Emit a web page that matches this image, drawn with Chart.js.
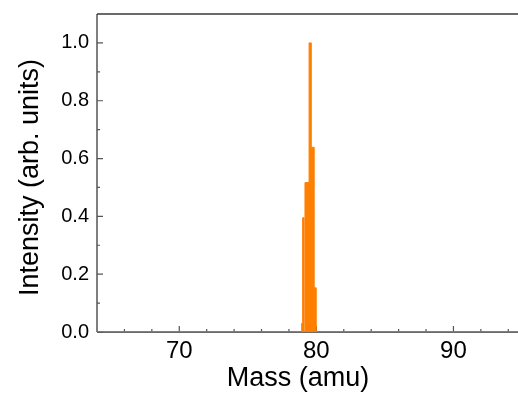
<!DOCTYPE html>
<html>
<head>
<meta charset="utf-8">
<script src="https://cdn.jsdelivr.net/npm/chart.js@4.4.1/dist/chart.umd.min.js"></script>
<style>
html,body{margin:0;padding:0;background:#fff;overflow:hidden;}
#wrap{position:relative;width:530px;height:397px;}
</style>
</head>
<body>
<div id="wrap"><canvas id="c"></canvas></div>
<script>
// Spectrum bins: mass (start of bin, amu) and intensity (arb. units)
const masses    = [64, 78.93, 79.0, 79.1, 79.17, 79.47, 79.63, 79.84, 79.99, 95];
const intensity = [0,  0.03,  0.395, 0,   0.517, 1.0,   0.639, 0.153, 0,     0];

const xMajorTicks = [70, 80, 90];
const xMinorTicks = [66, 68, 72, 74, 76, 78, 82, 84, 86, 88, 92, 94];
const yMajorTicks = [0, 0.2, 0.4, 0.6, 0.8, 1.0];
const yMinorTicks = [0.1, 0.3, 0.5, 0.7, 0.9];

const xTitle = 'Mass (amu)';
const yTitle = 'Intensity (arb. units)';

const FONT = '"Liberation Sans", Arial, sans-serif';

const framePlugin = {
  id: 'frame',
  beforeDatasetsDraw(chart) {
    const {ctx, chartArea: a, scales: {x, y}} = chart;
    ctx.save();
    ctx.strokeStyle = '#3a3a3a';
    ctx.lineWidth = 1.3;
    ctx.beginPath();
    ctx.moveTo(a.left, a.top); ctx.lineTo(a.right, a.top);
    ctx.moveTo(a.left, a.top); ctx.lineTo(a.left, a.bottom);
    ctx.moveTo(a.left, a.bottom); ctx.lineTo(a.right, a.bottom);
    ctx.moveTo(a.right, a.top); ctx.lineTo(a.right, a.bottom);
    ctx.stroke();
    ctx.strokeStyle = '#555';
    ctx.lineWidth = 1.2;
    ctx.beginPath();
    xMajorTicks.forEach(v => { const p = x.getPixelForValue(v); ctx.moveTo(p, a.bottom); ctx.lineTo(p, a.bottom - 6); });
    xMinorTicks.forEach(v => { const p = x.getPixelForValue(v); ctx.moveTo(p, a.bottom); ctx.lineTo(p, a.bottom - 3); });
    yMajorTicks.forEach(v => { const p = y.getPixelForValue(v); ctx.moveTo(a.left, p); ctx.lineTo(a.left + 6, p); });
    yMinorTicks.forEach(v => { const p = y.getPixelForValue(v); ctx.moveTo(a.left, p); ctx.lineTo(a.left + 3, p); });
    ctx.stroke();
    ctx.restore();
  },
  afterDraw(chart) {
    const {ctx} = chart;
    ctx.save();
    ctx.fillStyle = '#000';
    ctx.font = '27px ' + FONT;
    ctx.textAlign = 'center';
    ctx.textBaseline = 'alphabetic';
    ctx.fillText(xTitle, 298, 386);
    ctx.translate(38, 177.5);
    ctx.rotate(-Math.PI / 2);
    ctx.fillText(yTitle, 0, 0);
    ctx.restore();
  }
};

new Chart(document.getElementById('c'), {
  type: 'line',
  data: {
    datasets: [{
      data: masses.map((m, i) => ({x: m, y: intensity[i]})),
      stepped: true,
      fill: 'origin',
      borderColor: '#ff7f00',
      backgroundColor: '#ff7f00',
      borderWidth: 1,
      pointRadius: 0,
      tension: 0
    }]
  },
  options: {
    responsive: true,
    maintainAspectRatio: false,
    devicePixelRatio: 1,
    animation: false,
    layout: {padding: {top: 14, right: 8, left: 0, bottom: 0}},
    plugins: {legend: {display: false}, tooltip: {enabled: false}},
    scales: {
      x: {
        type: 'linear',
        min: 64, max: 95,
        border: {display: false},
        grid: {display: false, drawTicks: false},
        ticks: {
          stepSize: 10, includeBounds: false, padding: 5,
          color: '#000', font: {family: FONT, size: 24},
          maxRotation: 0, autoSkip: false,
          callback: v => xMajorTicks.includes(v) ? String(v) : ''
        },
        afterFit(s) { s.height = 65; s.paddingLeft = 0; s.paddingRight = 0; s.paddingTop = 0; s.paddingBottom = 0; }
      },
      y: {
        min: 0, max: 1.1,
        border: {display: false},
        grid: {display: false, drawTicks: false},
        ticks: {
          stepSize: 0.2, includeBounds: false, padding: 8,
          color: '#000', font: {family: FONT, size: 20},
          callback: v => Number(v).toFixed(1)
        },
        afterFit(s) { s.width = 97; s.paddingLeft = 0; s.paddingRight = 0; s.paddingTop = 0; s.paddingBottom = 0; }
      }
    }
  },
  plugins: [framePlugin]
});
</script>
</body>
</html>
